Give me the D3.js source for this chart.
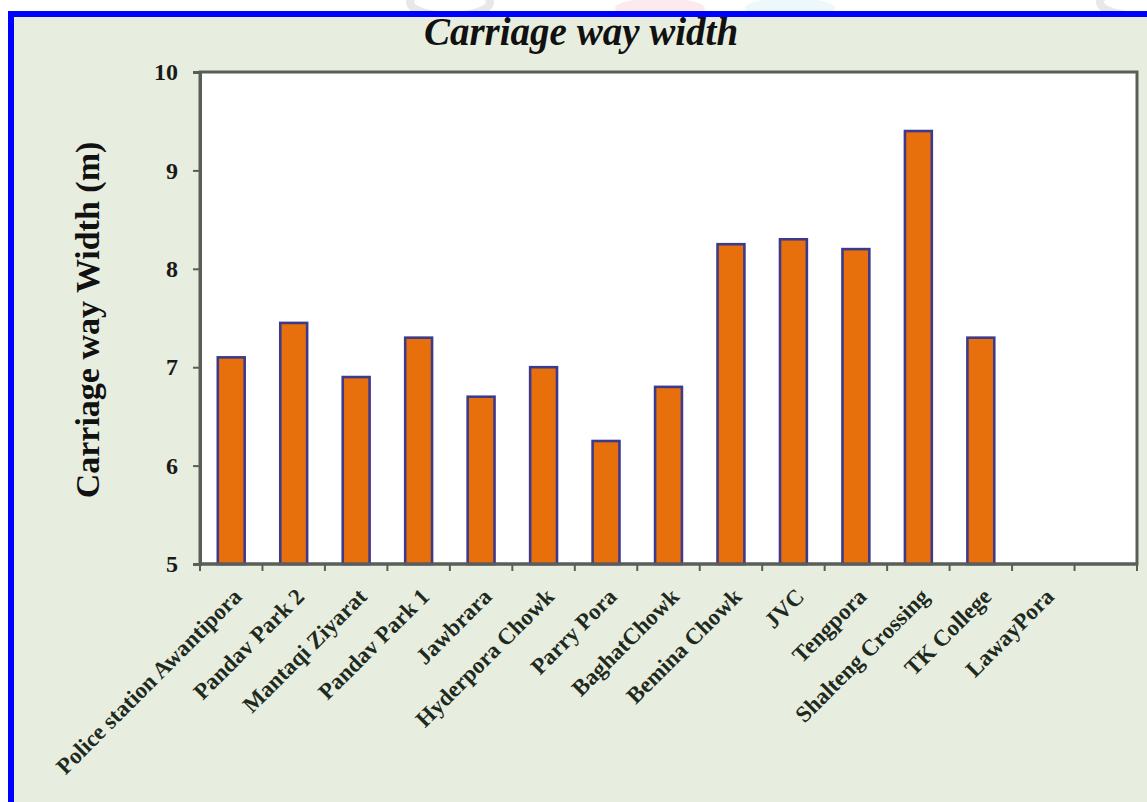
<!DOCTYPE html>
<html>
<head>
<meta charset="utf-8">
<script src="https://cdn.jsdelivr.net/npm/d3@7"></script>
<style>
  html, body { margin: 0; padding: 0; background: #ffffff; }
  svg { display: block; }
</style>
</head>
<body>
<svg id="chart" width="1147" height="802"></svg>
<script>
// Carriage way width per location (m); LawayPora has no measurement
const locations = [
  "Police station Awantipora", "Pandav Park 2", "Mantaqi Ziyarat", "Pandav Park 1",
  "Jawbrara", "Hyderpora Chowk", "Parry Pora", "BaghatChowk", "Bemina Chowk",
  "JVC", "Tengpora", "Shalteng Crossing", "TK College", "LawayPora", ""
];
const widths = [7.1, 7.45, 6.9, 7.3, 6.7, 7.0, 6.25, 6.8, 8.25, 8.3, 8.2, 9.4, 7.3, null, null];
const yTicks = [5, 6, 7, 8, 9, 10];

const svg = d3.select("#chart");
const W = 1147, H = 802;
const plot = { left: 200, right: 1137, top: 72, bottom: 564 };

// page frame: light green panel with a blue top and left edge
svg.append("rect").attr("x", 0).attr("y", 0).attr("width", W).attr("height", H).attr("fill", "#ffffff");
// faint decoration strip above the frame
const deco = svg.append("g").attr("opacity", 0.35);
deco.append("ellipse").attr("cx", 450).attr("cy", 2).attr("rx", 40).attr("ry", 14).attr("fill", "none").attr("stroke", "#b9bcc4").attr("stroke-width", 8);
deco.append("ellipse").attr("cx", 660).attr("cy", 8).attr("rx", 45).attr("ry", 10).attr("fill", "#f6c7cf");
deco.append("ellipse").attr("cx", 790).attr("cy", 8).attr("rx", 45).attr("ry", 10).attr("fill", "#c9ecf6");
deco.append("ellipse").attr("cx", 1140).attr("cy", 2).attr("rx", 40).attr("ry", 14).attr("fill", "none").attr("stroke", "#b9bcc4").attr("stroke-width", 8);

svg.append("rect").attr("x", 8).attr("y", 11).attr("width", W - 8).attr("height", H - 11).attr("fill", "#0000ff");
svg.append("rect").attr("x", 14).attr("y", 17).attr("width", W - 14).attr("height", H - 17).attr("fill", "#e8eedf");

const x = d3.scaleBand().domain(d3.range(locations.length)).range([plot.left, plot.right]).paddingInner(0).paddingOuter(0);
const y = d3.scaleLinear().domain([5, 10]).range([plot.bottom, plot.top]);

const serif = "'Liberation Serif', 'Times New Roman', serif";

// plot area
svg.append("rect")
  .attr("x", plot.left).attr("y", plot.top)
  .attr("width", plot.right - plot.left).attr("height", plot.bottom - plot.top)
  .attr("fill", "#ffffff").attr("stroke", "#5a5e58").attr("stroke-width", 3);

// bars
const barW = x.bandwidth() * 0.43;
svg.append("g").selectAll("rect")
  .data(widths.map((v, i) => ({ v, i })).filter(d => d.v != null))
  .join("rect")
  .attr("x", d => x(d.i) + (x.bandwidth() - barW) / 2)
  .attr("y", d => y(d.v))
  .attr("width", barW)
  .attr("height", d => y(5) - y(d.v))
  .attr("fill", "#e8700c")
  .attr("stroke", "#3d3a8c")
  .attr("stroke-width", 2.6);

// y axis
const yAxis = svg.append("g")
  .attr("transform", `translate(${plot.left},0)`)
  .call(d3.axisLeft(y).tickValues(yTicks).tickSize(7).tickPadding(15).tickFormat(d3.format("d")));
yAxis.select(".domain").attr("stroke", "#5a5e58").attr("stroke-width", 3);
yAxis.selectAll(".tick line").attr("stroke", "#5a5e58").attr("stroke-width", 2);
yAxis.selectAll(".tick text")
  .attr("font-family", serif).attr("font-weight", "bold").attr("font-size", 24).attr("fill", "#1a1a1a");

// x axis: ticks on band boundaries
const bounds = d3.range(locations.length + 1).map(i => plot.left + i * x.bandwidth());
svg.append("g").selectAll("line")
  .data(bounds)
  .join("line")
  .attr("x1", d => d).attr("x2", d => d)
  .attr("y1", plot.bottom).attr("y2", plot.bottom + 7)
  .attr("stroke", "#5a5e58").attr("stroke-width", 2);
svg.append("line")
  .attr("x1", plot.left).attr("x2", plot.right)
  .attr("y1", plot.bottom).attr("y2", plot.bottom)
  .attr("stroke", "#5a5e58").attr("stroke-width", 3);

// category labels, rotated
svg.append("g").selectAll("text")
  .data(locations.map((name, i) => ({ name, i })).filter(d => d.name))
  .join("text")
  .attr("transform", d => `translate(${x(d.i) + x.bandwidth() / 2 + 12},${plot.bottom + 34}) rotate(-45)`)
  .attr("text-anchor", "end")
  .attr("font-family", serif).attr("font-weight", "bold").attr("font-size", 23)
  .attr("fill", "#1e2a1e")
  .text(d => d.name);

// title
svg.append("text")
  .attr("x", 581).attr("y", 45)
  .attr("text-anchor", "middle")
  .attr("font-family", serif).attr("font-weight", "bold").attr("font-style", "italic")
  .attr("font-size", 39).attr("fill", "#111")
  .text("Carriage way width");

// y axis title
svg.append("text")
  .attr("transform", `translate(99,320) rotate(-90)`)
  .attr("text-anchor", "middle")
  .attr("font-family", serif).attr("font-weight", "bold")
  .attr("font-size", 34).attr("fill", "#111")
  .text("Carriage way Width (m)");
</script>
</body>
</html>
